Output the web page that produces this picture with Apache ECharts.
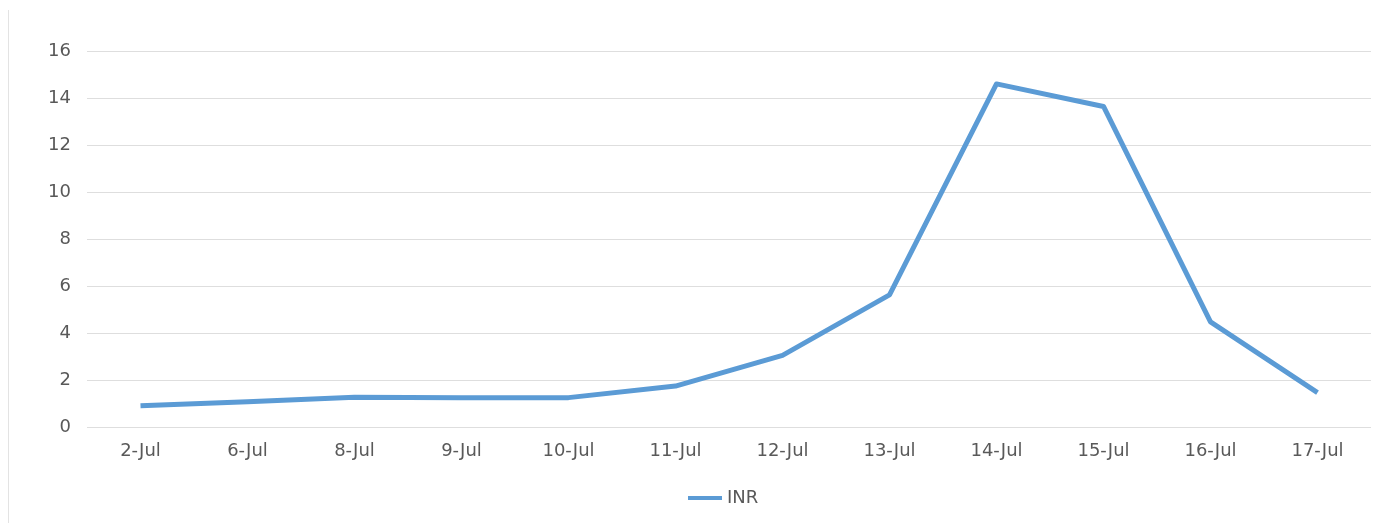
<!DOCTYPE html>
<html>
<head>
<meta charset="utf-8">
<script src="https://cdn.jsdelivr.net/npm/echarts@6/dist/echarts.min.js"></script>
<style>
	html, body { margin: 0; padding: 0; background: #fff; }
	#chart { width: 1392px; height: 523px; }
	#frame { position: absolute; left: 8px; top: 10px; width: 1px; height: 513px; background: #e3e3e3; }
</style>
</head>
<body>
<div id="frame"></div>
<div id="chart"></div>
<script>
// data
const days = ['2-Jul', '6-Jul', '8-Jul', '9-Jul', '10-Jul', '11-Jul', '12-Jul', '13-Jul', '14-Jul', '15-Jul', '16-Jul', '17-Jul'];
const inr = [0.9, 1.07, 1.27, 1.24, 1.25, 1.74, 3.05, 5.62, 14.6, 13.64, 4.47, 1.46];

const chart = echarts.init(document.getElementById('chart'));
chart.setOption({
	textStyle: { fontFamily: '"DejaVu Sans", Verdana, sans-serif' },
	grid: { left: 87, right: 21, top: 51, bottom: 96 },
	legend: {
		data: ['INR'],
		left: 683,
		top: 484,
		itemWidth: 34,
		itemHeight: 4,
		itemGap: 6,
		icon: 'rect',
		textStyle: { color: '#595959', fontSize: 18 }
	},
	xAxis: {
		type: 'category',
		data: days,
		boundaryGap: true,
		axisLine: { show: false },
		axisTick: { show: false },
		axisLabel: { color: '#595959', fontSize: 18, margin: 15 }
	},
	yAxis: {
		type: 'value',
		min: 0,
		max: 16,
		interval: 2,
		axisLine: { show: false },
		axisTick: { show: false },
		axisLabel: { color: '#595959', fontSize: 18, margin: 16 },
		splitLine: { lineStyle: { color: '#dedede', width: 1 } }
	},
	series: [{
		name: 'INR',
		type: 'line',
		data: inr,
		symbol: 'none',
		lineStyle: { color: '#5b9bd5', width: 5, join: 'round' },
		itemStyle: { color: '#5b9bd5' }
	}]
});
</script>
</body>
</html>
